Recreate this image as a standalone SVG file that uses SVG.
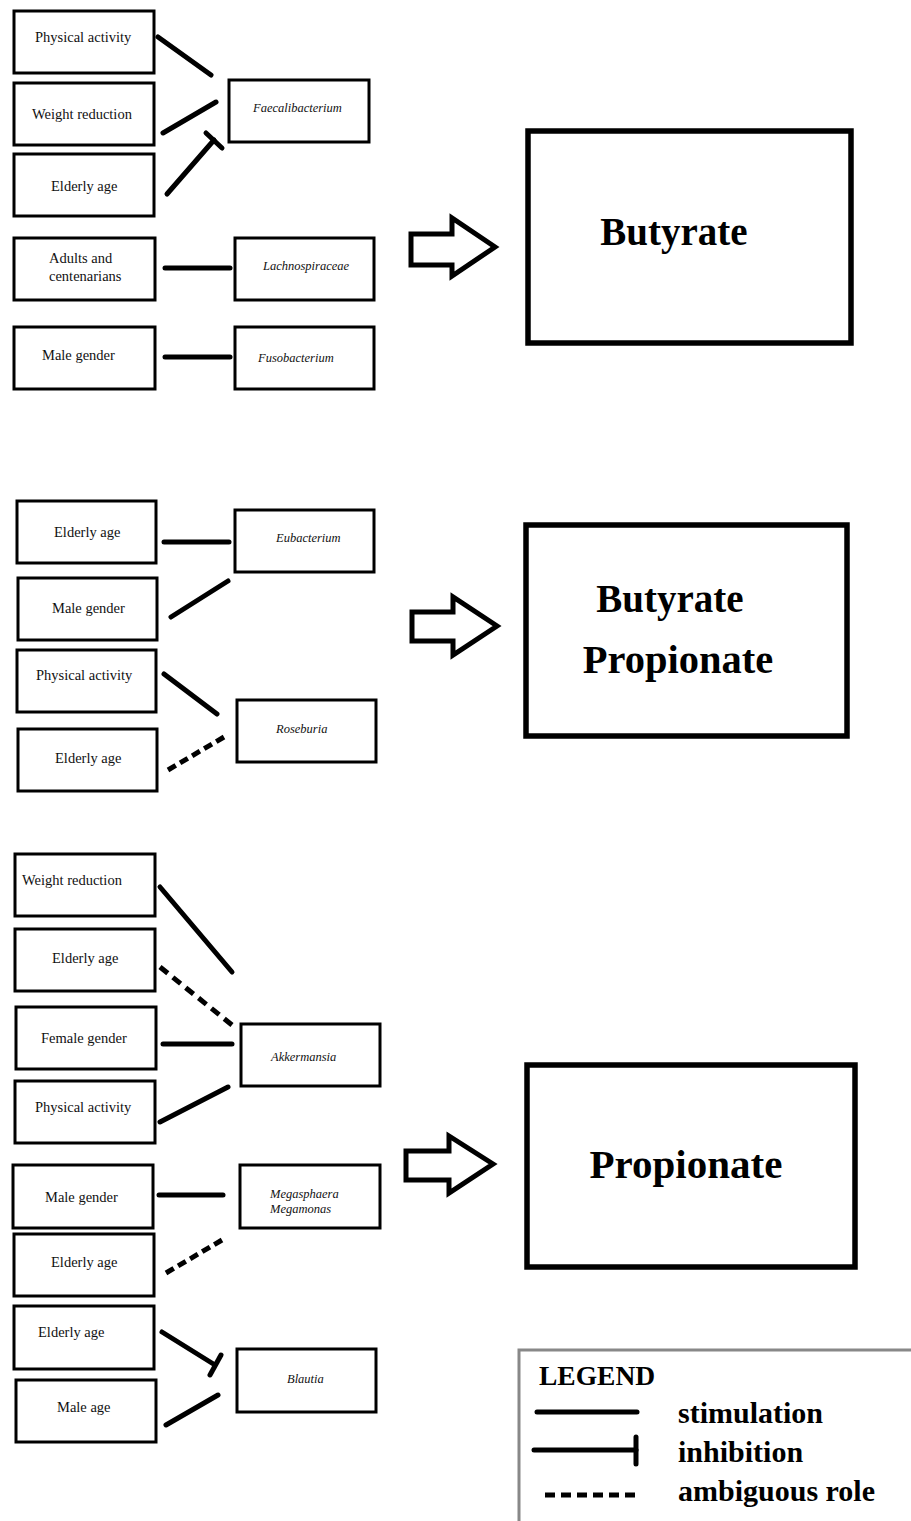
<svg xmlns="http://www.w3.org/2000/svg" width="911" height="1521" viewBox="0 0 911 1521">
<style>
.bx{fill:#fff;stroke:#000;stroke-width:3}
.big{fill:#fff;stroke:#000;stroke-width:5.5}
.t{font-family:"Liberation Serif",serif;font-size:14.5px;fill:#111}
.it{font-family:"Liberation Serif",serif;font-style:italic;font-size:12.5px;fill:#111}
.bt{font-family:"Liberation Serif",serif;font-weight:bold;font-size:39px;fill:#000}
.bp{font-family:"Liberation Serif",serif;font-weight:bold;font-size:40.5px;fill:#000}
.lg{font-family:"Liberation Serif",serif;font-weight:bold;font-size:30px;fill:#000}
.c{stroke:#000;stroke-width:5;stroke-linecap:round;fill:none}
.d{stroke:#000;stroke-width:5;fill:none}
.ar{fill:#fff;stroke:#000;stroke-width:5;stroke-linejoin:miter}
</style>
<rect width="911" height="1521" fill="#fff"/>

<g id="n-pa1"><rect class="bx" x="14" y="11" width="140" height="62"/><text class="t" x="35" y="42">Physical activity</text></g>
<g id="n-wr1"><rect class="bx" x="14" y="83" width="140" height="62"/><text class="t" x="32" y="119">Weight reduction</text></g>
<g id="n-ea1"><rect class="bx" x="14" y="154" width="140" height="62"/><text class="t" x="51" y="191">Elderly age</text></g>
<g id="n-faec"><rect class="bx" x="229" y="80" width="140" height="62"/><text class="it" x="253" y="112">Faecalibacterium</text></g>
<g id="n-adc"><rect class="bx" x="14" y="238" width="141" height="62"/><text class="t" x="49" y="263">Adults and</text><text class="t" x="49" y="281">centenarians</text></g>
<g id="n-lach"><rect class="bx" x="235" y="238" width="139" height="62"/><text class="it" x="263" y="270">Lachnospiraceae</text></g>
<g id="n-mg1"><rect class="bx" x="14" y="327" width="141" height="62"/><text class="t" x="42" y="360">Male gender</text></g>
<g id="n-fuso"><rect class="bx" x="235" y="327" width="139" height="62"/><text class="it" x="258" y="362">Fusobacterium</text></g>
<g id="n-but"><rect class="big" x="528" y="131" width="323" height="212"/><text class="bt" x="674" y="245" text-anchor="middle">Butyrate</text></g>

<g id="n-ea2"><rect class="bx" x="17" y="501" width="139" height="62"/><text class="t" x="54" y="537">Elderly age</text></g>
<g id="n-mg2"><rect class="bx" x="18" y="578" width="139" height="62"/><text class="t" x="52" y="613">Male gender</text></g>
<g id="n-pa2"><rect class="bx" x="17" y="650" width="139" height="62"/><text class="t" x="36" y="680">Physical activity</text></g>
<g id="n-ea3"><rect class="bx" x="18" y="729" width="139" height="62"/><text class="t" x="55" y="763">Elderly age</text></g>
<g id="n-eub"><rect class="bx" x="235" y="510" width="139" height="62"/><text class="it" x="276" y="542">Eubacterium</text></g>
<g id="n-ros"><rect class="bx" x="237" y="700" width="139" height="62"/><text class="it" x="276" y="733">Roseburia</text></g>
<g id="n-butprop"><rect class="big" x="526" y="525" width="321" height="211"/><text class="bt" x="670" y="612" text-anchor="middle">Butyrate</text><text class="bp" x="678" y="673" text-anchor="middle">Propionate</text></g>

<g id="n-wr2"><rect class="bx" x="15" y="854" width="140" height="62"/><text class="t" x="22" y="885">Weight reduction</text></g>
<g id="n-ea4"><rect class="bx" x="15" y="929" width="140" height="62"/><text class="t" x="52" y="963">Elderly age</text></g>
<g id="n-fg"><rect class="bx" x="16" y="1007" width="140" height="62"/><text class="t" x="41" y="1043">Female gender</text></g>
<g id="n-pa3"><rect class="bx" x="15" y="1081" width="140" height="62"/><text class="t" x="35" y="1112">Physical activity</text></g>
<g id="n-akk"><rect class="bx" x="241" y="1024" width="139" height="62"/><text class="it" x="271" y="1061">Akkermansia</text></g>
<g id="n-mg3"><rect class="bx" x="13" y="1165" width="140" height="63"/><text class="t" x="45" y="1202">Male gender</text></g>
<g id="n-ea5"><rect class="bx" x="14" y="1234" width="140" height="62"/><text class="t" x="51" y="1267">Elderly age</text></g>
<g id="n-ea6"><rect class="bx" x="14" y="1306" width="140" height="63"/><text class="t" x="38" y="1337">Elderly age</text></g>
<g id="n-mage"><rect class="bx" x="16" y="1380" width="140" height="62"/><text class="t" x="57" y="1412">Male age</text></g>
<g id="n-mega"><rect class="bx" x="240" y="1165" width="140" height="63"/><text class="it" x="270" y="1198">Megasphaera</text><text class="it" x="270" y="1213">Megamonas</text></g>
<g id="n-blau"><rect class="bx" x="237" y="1349" width="139" height="63"/><text class="it" x="287" y="1383">Blautia</text></g>
<g id="n-prop"><rect class="big" x="527" y="1065" width="328" height="202"/><text class="bp" x="686" y="1178" text-anchor="middle" style="font-size:41px">Propionate</text></g>

<g id="connectors">
<line class="c" x1="158" y1="37" x2="211" y2="75"/>
<line class="c" x1="163" y1="133" x2="216" y2="102"/>
<line class="c" x1="167" y1="194" x2="214" y2="140"/>
<line class="c" x1="206" y1="133" x2="222" y2="148"/>
<line class="c" x1="165" y1="268" x2="230" y2="268"/>
<line class="c" x1="165" y1="357" x2="230" y2="357"/>
<line class="c" x1="164" y1="542" x2="229" y2="542"/>
<line class="c" x1="171" y1="617" x2="228" y2="581"/>
<line class="c" x1="164" y1="674" x2="217" y2="714"/>
<line class="d" x1="168" y1="770" x2="224" y2="737" stroke-dasharray="9 5"/>
<line class="c" x1="160" y1="887" x2="232" y2="972"/>
<line class="d" x1="160" y1="967" x2="232" y2="1025" stroke-dasharray="10 6.5"/>
<line class="c" x1="163" y1="1044" x2="232" y2="1044"/>
<line class="c" x1="160" y1="1122" x2="228" y2="1087"/>
<line class="c" x1="159" y1="1195" x2="223" y2="1195"/>
<line class="d" x1="166" y1="1273" x2="222" y2="1240" stroke-dasharray="9 5"/>
<line class="c" x1="162" y1="1332" x2="215" y2="1365"/>
<line class="c" x1="221" y1="1355" x2="210" y2="1375"/>
<line class="c" x1="166" y1="1425" x2="218" y2="1395"/>
<polygon class="ar" points="411,234 452,234 452,218 495,247 452,276 452,265 411,265"/>
<polygon class="ar" points="412,612 453,612 453,597 497,626 453,655 453,641 412,641"/>
<polygon class="ar" points="406,1151 449,1151 449,1136 493,1164 449,1193 449,1180 406,1180"/>
</g>

<g id="legend">
<rect x="519" y="1350" width="420" height="200" fill="#fff" stroke="#888" stroke-width="3"/>
<text class="lg" x="539" y="1385" style="font-size:27.5px">LEGEND</text>
<line class="c" x1="537" y1="1412" x2="637" y2="1412"/>
<text class="lg" x="678" y="1423">stimulation</text>
<line class="c" x1="534" y1="1450" x2="636" y2="1450"/>
<line class="c" x1="636" y1="1437" x2="636" y2="1464"/>
<text class="lg" x="678" y="1462">inhibition</text>
<line x1="545" y1="1495" x2="636" y2="1495" stroke="#000" stroke-width="5" stroke-dasharray="10 6"/>
<text class="lg" x="678" y="1501">ambiguous role</text>
</g>
</svg>
